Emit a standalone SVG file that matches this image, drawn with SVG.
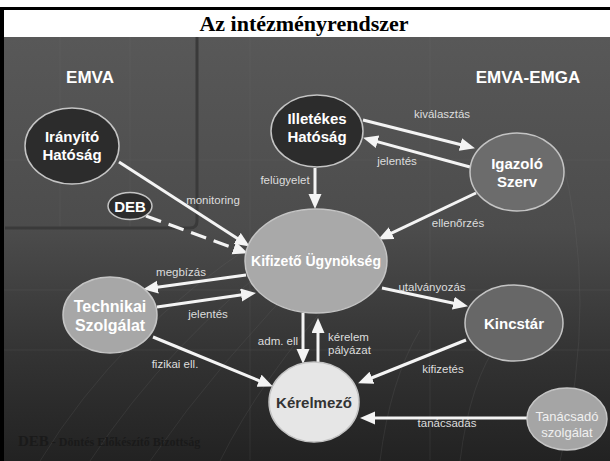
<svg xmlns="http://www.w3.org/2000/svg" width="610" height="461" viewBox="0 0 610 461">
<defs>
<linearGradient id="bg" x1="0" y1="0" x2="0" y2="1">
<stop offset="0" stop-color="#585858"/>
<stop offset="0.45" stop-color="#4c4c4c"/>
<stop offset="0.75" stop-color="#333"/>
<stop offset="1" stop-color="#222"/>
</linearGradient>
<marker id="ah" markerUnits="userSpaceOnUse" markerWidth="16" markerHeight="14" refX="10" refY="6.5" orient="auto">
<path d="M0,0 L15,6.5 L0,13 z" fill="#f4f4f4"/>
</marker>
<style>
.node{stroke:#c4c4c4;stroke-width:1.5}
.nl{font-family:"Liberation Sans",Arial,sans-serif;font-weight:bold;font-size:15px;fill:#fff;text-anchor:middle}
.lbl{font-family:"Liberation Sans",Arial,sans-serif;font-size:11.5px;fill:#ddd;text-anchor:middle}
.lbs{font-family:"Liberation Sans",Arial,sans-serif;font-size:11.5px;fill:#ddd;text-anchor:start}
.con{stroke:#f4f4f4;stroke-width:3;fill:none;marker-end:url(#ah)}
.grid{stroke:#777;stroke-width:1;fill:none;opacity:0.18}
</style>
</defs>
<rect x="0" y="0" width="610" height="461" fill="#fff"/>
<rect x="0" y="37" width="610" height="424" fill="url(#bg)"/>
<rect x="0" y="7" width="610" height="3" fill="#000"/>
<rect x="0" y="7" width="4" height="454" fill="#000"/>
<text x="304" y="31" font-family="'Liberation Serif','Times New Roman',serif" font-weight="bold" font-size="22" text-anchor="middle" fill="#000">Az intézményrendszer</text>

<g id="background">
<path class="grid" d="M4,290 H610 M4,350 H610 M250,37 V460 M430,37 V460 M60,37 V228 M130,37 V228 M4,160 H610"/>
<path class="grid" d="M40,461 Q120,330 260,240 M90,461 Q170,340 290,250 M150,461 Q220,360 320,260 M220,461 Q260,380 340,290 M380,461 Q390,380 420,330 M460,461 Q470,380 500,340 M560,461 Q600,300 560,150"/>
<path d="M5,228 H190 Q197,228 197,221 V37" fill="none" stroke="#3a3a3a" stroke-width="3"/>
<text x="90" y="83" font-family="'Liberation Sans',Arial,sans-serif" font-weight="bold" font-size="17" fill="#fff" text-anchor="middle">EMVA</text>
<text x="528" y="83" font-family="'Liberation Sans',Arial,sans-serif" font-weight="bold" font-size="17" fill="#fff" text-anchor="middle">EMVA-EMGA</text>
</g>

<g id="connectors">
<line class="con" x1="119" y1="162" x2="245.6" y2="243.8"/>
<line class="con" x1="146" y1="216" x2="243.2" y2="251.6" stroke-dasharray="16 8"/>
<line class="con" x1="363" y1="120" x2="470.1" y2="147"/>
<line class="con" x1="470" y1="167" x2="367.9" y2="139.1"/>
<line class="con" x1="315" y1="168" x2="315" y2="204"/>
<line class="con" x1="476" y1="193" x2="382.6" y2="237.3"/>
<line class="con" x1="246" y1="275" x2="148" y2="288.5"/>
<line class="con" x1="157" y1="307" x2="251" y2="293.6"/>
<line class="con" x1="153" y1="337" x2="268.3" y2="384.5"/>
<line class="con" x1="303" y1="313" x2="303" y2="359"/>
<line class="con" x1="318" y1="362" x2="318" y2="323"/>
<line class="con" x1="382" y1="288" x2="463.1" y2="305.2"/>
<line class="con" x1="466" y1="340" x2="362.7" y2="381.5"/>
<line class="con" x1="527" y1="418" x2="365" y2="418"/>
<text class="lbl" x="442" y="118">kiválasztás</text>
<text class="lbl" x="397" y="165">jelentés</text>
<text class="lbl" x="285" y="184">felügyelet</text>
<text class="lbl" x="213" y="204">monitoring</text>
<text class="lbl" x="458" y="227">ellenőrzés</text>
<text class="lbl" x="181" y="276">megbízás</text>
<text class="lbl" x="208" y="318">jelentés</text>
<text class="lbl" x="175" y="368">fizikai ell.</text>
<text class="lbl" x="278" y="345">adm. ell</text>
<text class="lbs" x="328" y="341">kérelem</text>
<text class="lbs" x="328" y="354">pályázat</text>
<text class="lbl" x="432" y="291">utalványozás</text>
<text class="lbl" x="443" y="373">kifizetés</text>
<text class="lbl" x="447" y="427">tanácsadás</text>
</g>

<g id="iranyito">
<ellipse class="node" cx="72" cy="146" rx="47" ry="38" fill="#2c2c2c"/>
<text class="nl" x="72" y="142">Irányító</text>
<text class="nl" x="72" y="160">Hatóság</text>
</g>
<g id="deb">
<ellipse class="node" cx="130" cy="206" rx="22" ry="13.5" fill="#2c2c2c"/>
<text class="nl" x="130" y="212">DEB</text>
</g>
<g id="illetekes">
<ellipse class="node" cx="317" cy="131" rx="46" ry="36" fill="#2c2c2c"/>
<text class="nl" x="317" y="124">Illetékes</text>
<text class="nl" x="317" y="142">Hatóság</text>
</g>
<g id="igazolo">
<ellipse class="node" cx="517" cy="172" rx="47" ry="39" fill="#6c6c6c"/>
<text class="nl" x="517" y="169">Igazoló</text>
<text class="nl" x="517" y="187">Szerv</text>
</g>
<g id="kifizeto">
<ellipse class="node" cx="316" cy="261" rx="71" ry="52" fill="#a9a9a9"/>
<text class="nl" x="316" y="266" style="font-size:14px">Kifizető Ügynökség</text>
</g>
<g id="technikai">
<ellipse class="node" cx="110" cy="315" rx="47" ry="38" fill="#a7a7a7"/>
<text class="nl" x="110" y="312" style="font-size:16px">Technikai</text>
<text class="nl" x="110" y="331" style="font-size:16px">Szolgálat</text>
</g>
<g id="kincstar">
<ellipse class="node" cx="514" cy="323" rx="49" ry="38" fill="#676767"/>
<text class="nl" x="514" y="329">Kincstár</text>
</g>
<g id="kerelmezo">
<ellipse class="node" cx="314" cy="402" rx="45" ry="40" fill="#e6e6e6"/>
<text class="nl" x="314" y="408" style="fill:#333">Kérelmező</text>
</g>
<g id="tanacsado">
<ellipse class="node" cx="567" cy="419" rx="40" ry="31" fill="#a5a5a5"/>
<text class="nl" x="567" y="421" style="font-size:13px;font-weight:normal;fill:#f0f0f0">Tanácsadó</text>
<text class="nl" x="567" y="437" style="font-size:13px;font-weight:normal;fill:#f0f0f0">szolgálat</text>
</g>

<g id="legend">
<text x="18" y="446" font-family="'Liberation Serif','Times New Roman',serif" font-weight="bold" fill="#1a1a1a"><tspan font-size="15">DEB</tspan><tspan font-size="12"> - Döntés Előkészítő Bizottság</tspan></text>
</g>
</svg>
